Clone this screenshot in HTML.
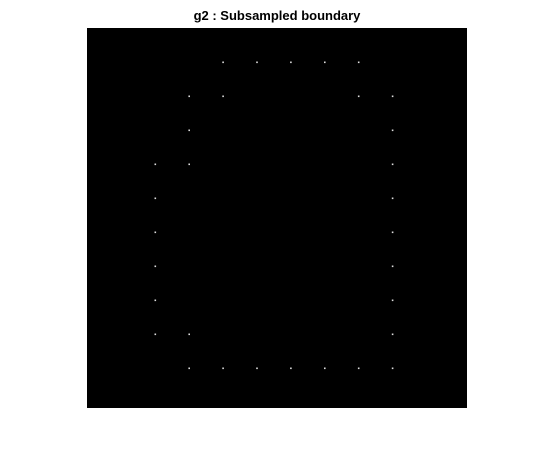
<!DOCTYPE html>
<html><head><meta charset="utf-8"><style>
body{margin:0;background:#fff;width:554px;height:475px;overflow:hidden}
svg{display:block}
</style></head><body>
<svg width="554" height="475">
<text x="277" y="20" text-anchor="middle" font-family="Liberation Sans, sans-serif" font-weight="bold" font-size="13" fill="#000">g2 : Subsampled boundary</text>
<rect x="87" y="28" width="380" height="380" fill="#000"/>
<g id="dots"></g>
</svg>
<script>
// boundary sample points in grid units (col, row)
const cols = [2,3,4,5,6, 1,2,6,7, 1,7, 0,1,7, 0,7, 0,7, 0,7, 0,7, 0,1,7, 1,2,3,4,5,6,7];
const rows = [0,0,0,0,0, 1,1,1,1, 2,2, 3,3,3, 4,4, 5,5, 6,6, 7,7, 8,8,8, 9,9,9,9,9,9,9];
function xScale(c){return 155.5+33.9*c;}
function yScale(r){return 62.5+34*r;}
const g=document.getElementById('dots');
for(let i=0;i<cols.length;i++){
  const d=document.createElementNS('http://www.w3.org/2000/svg','rect');
  d.setAttribute('x',xScale(cols[i])-1);
  d.setAttribute('y',yScale(rows[i])-1);
  d.setAttribute('width',1.6);
  d.setAttribute('height',1.6);
  d.setAttribute('fill','#ddd');
  
  
  g.appendChild(d);
}
</script>
</body></html>
